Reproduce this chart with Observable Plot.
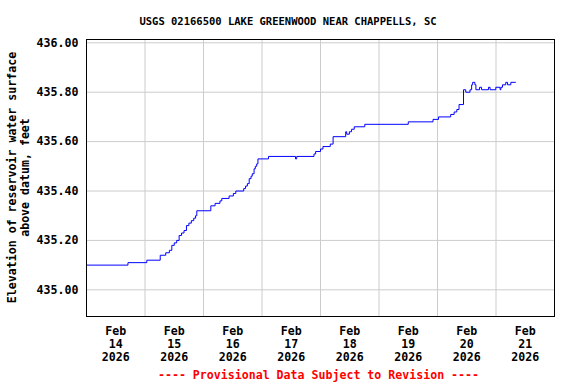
<!DOCTYPE html>
<html>
<head>
<meta charset="utf-8">
<script src="https://cdn.jsdelivr.net/npm/d3@7"></script>
<script src="https://cdn.jsdelivr.net/npm/@observablehq/plot@0.6"></script>
<style>
  html, body { margin: 0; padding: 0; background: white; }
  #chart { width: 576px; height: 384px; }
</style>
</head>
<body>
<div id="chart"></div>
<script>
const title = "USGS 02166500 LAKE GREENWOOD NEAR CHAPPELLS, SC";
const yLabelLines = ["Elevation of reservoir water surface", "above datum, feet"];
const footer = "---- Provisional Data Subject to Revision ----";

const times = [
  "2026-02-14T00:00","2026-02-14T17:00","2026-02-15T00:45","2026-02-15T06:15","2026-02-15T08:30",
  "2026-02-15T10:00","2026-02-15T11:00","2026-02-15T12:00","2026-02-15T13:00","2026-02-15T14:00",
  "2026-02-15T15:00","2026-02-15T16:00","2026-02-15T17:00","2026-02-15T18:00","2026-02-15T19:00",
  "2026-02-15T20:00","2026-02-15T20:45","2026-02-15T21:15","2026-02-16T03:00","2026-02-16T04:45",
  "2026-02-16T06:45","2026-02-16T07:30","2026-02-16T10:30","2026-02-16T12:15","2026-02-16T13:15",
  "2026-02-16T16:30","2026-02-16T17:15","2026-02-16T18:00","2026-02-16T18:45","2026-02-16T19:30",
  "2026-02-16T20:00","2026-02-16T20:45","2026-02-16T21:15","2026-02-16T21:50","2026-02-16T22:20",
  "2026-02-17T02:40","2026-02-17T13:45","2026-02-17T14:15","2026-02-17T21:20","2026-02-17T22:00",
  "2026-02-18T00:00","2026-02-18T01:00","2026-02-18T04:00","2026-02-18T05:10","2026-02-18T10:20",
  "2026-02-18T10:45","2026-02-18T11:50","2026-02-18T12:45","2026-02-18T13:50","2026-02-18T18:10",
  "2026-02-19T12:00","2026-02-19T22:10","2026-02-20T00:25","2026-02-20T05:25","2026-02-20T06:50",
  "2026-02-20T07:55","2026-02-20T08:50","2026-02-20T10:40","2026-02-20T11:35","2026-02-20T13:20",
  "2026-02-20T14:00","2026-02-20T14:25","2026-02-20T15:20","2026-02-20T15:45","2026-02-20T17:15",
  "2026-02-20T18:05","2026-02-20T20:55","2026-02-20T21:35","2026-02-20T23:55","2026-02-21T01:40",
  "2026-02-21T02:00","2026-02-21T02:40","2026-02-21T04:00","2026-02-21T04:45","2026-02-21T06:05",
  "2026-02-21T08:00"
];
const levels = [
  435.10,435.11,435.12,435.14,435.15,
  435.16,435.18,435.19,435.20,435.22,
  435.23,435.24,435.26,435.27,435.28,
  435.29,435.30,435.32,435.34,435.35,
  435.36,435.37,435.38,435.39,435.40,
  435.41,435.42,435.43,435.45,435.46,
  435.47,435.49,435.50,435.51,435.53,
  435.54,435.53,435.54,435.55,435.56,
  435.57,435.58,435.59,435.62,435.64,
  435.63,435.64,435.65,435.66,435.67,
  435.68,435.69,435.70,435.71,435.72,
  435.73,435.75,435.81,435.80,435.81,
  435.83,435.84,435.83,435.81,435.82,
  435.81,435.82,435.81,435.82,435.81,
  435.82,435.83,435.84,435.83,435.84,
  435.84
];

const yTicks = [435.00, 435.20, 435.40, 435.60, 435.80, 436.00];
const xDomain = ["2026-02-14T00:00", "2026-02-22T00:00"];
const gridDays = ["2026-02-15T00:00","2026-02-16T00:00","2026-02-17T00:00","2026-02-18T00:00",
                  "2026-02-19T00:00","2026-02-20T00:00","2026-02-21T00:00"];
const labelDays = ["2026-02-14T12:00","2026-02-15T12:00","2026-02-16T12:00","2026-02-17T12:00",
                   "2026-02-18T12:00","2026-02-19T12:00","2026-02-20T12:00","2026-02-21T12:00"];
const monthNames = ["Jan","Feb","Mar","Apr","May","Jun","Jul","Aug","Sep","Oct","Nov","Dec"];

const parse = d3.utcParse("%Y-%m-%dT%H:%M");
const data = times.map((t, i) => ({date: parse(t), level: levels[i]}));

const font = "'DejaVu Sans Mono', 'Liberation Mono', monospace";

const svg = Plot.plot({
  width: 576,
  height: 384,
  marginLeft: 86,
  marginRight: 22,
  marginTop: 39,
  marginBottom: 68,
  style: {fontFamily: font, fontWeight: "bold", fontSize: "11.6px", background: "white", color: "black"},
  x: {type: "utc", domain: xDomain.map(parse)},
  y: {domain: [434.892, 436.0134]},
  marks: [
    Plot.gridY(yTicks, {stroke: "#cccccc", strokeOpacity: 1, strokeWidth: 1}),
    Plot.gridX(gridDays.map(parse), {stroke: "#cccccc", strokeOpacity: 1, strokeWidth: 1}),
    Plot.line(data, {x: "date", y: "level", curve: "step-after", stroke: "#0000ff", strokeWidth: 1}),
    Plot.frame({stroke: "black", strokeWidth: 1}),
    Plot.axisY(yTicks, {tickSize: 0, tickPadding: 8, tickFormat: d => d.toFixed(2), label: null, fontSize: 11.6}),
    Plot.axisX(labelDays.map(parse), {
      tickSize: 0, tickPadding: 9, label: null, fontSize: 11.6, lineHeight: 1.12,
      tickFormat: d => `${monthNames[d.getUTCMonth()]}\n${d.getUTCDate()}\n${d.getUTCFullYear()}`
    })
  ]
});

const s = d3.select(svg);
s.append("text")
  .attr("x", 288).attr("y", 21)
  .attr("text-anchor", "middle").attr("dominant-baseline", "central")
  .attr("font-size", 10.5).attr("font-family", font).attr("font-weight", "bold")
  .attr("fill", "black")
  .text(title);

yLabelLines.forEach((line, i) => {
  s.append("text")
    .attr("transform", `translate(${12 + i * 13},177.5) rotate(-90)`)
    .attr("text-anchor", "middle").attr("dominant-baseline", "central")
    .attr("font-size", 11.6).attr("font-family", font).attr("font-weight", "bold")
    .attr("fill", "black")
    .text(line);
});

s.append("text")
  .attr("x", 318.5).attr("y", 375)
  .attr("text-anchor", "middle").attr("dominant-baseline", "central")
  .attr("font-size", 11.6).attr("font-family", font).attr("font-weight", "bold")
  .attr("fill", "#ff0000")
  .text(footer);

document.getElementById("chart").appendChild(svg);
</script>
</body>
</html>
